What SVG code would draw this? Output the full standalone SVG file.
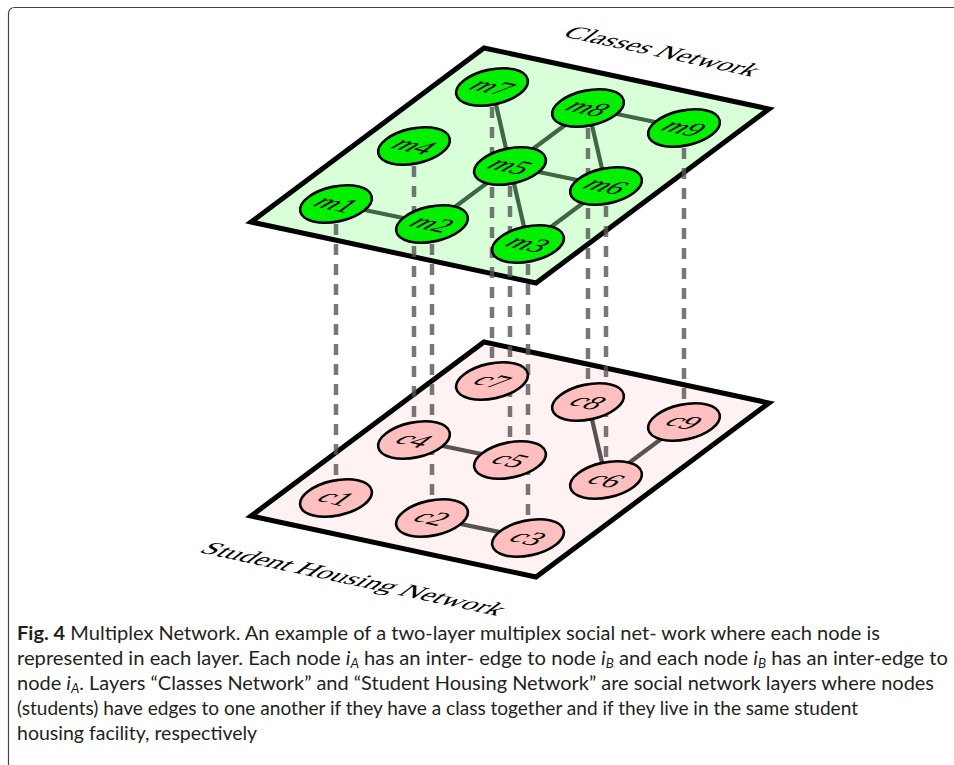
<svg xmlns="http://www.w3.org/2000/svg" width="954" height="765" viewBox="0 0 954 765">
<style>
.plane{stroke:#000;stroke-width:5;stroke-linejoin:miter}
.mnode{fill:#00f000;stroke:#000;stroke-width:2.6}
.cnode{fill:#ffbfbf;stroke:#000;stroke-width:2.6}
.lbl{font-family:"Liberation Serif","DejaVu Serif",serif;font-size:29px;text-anchor:middle;fill:#000}
.lbl .v{font-style:italic}
.layer{font-family:"Liberation Serif","DejaVu Serif",serif;font-size:26px;fill:#000}
.inter{stroke:#555;stroke-opacity:0.8;stroke-width:4.5;stroke-dasharray:11 9;fill:none}
.medge{stroke:#3f6745;stroke-width:4.2;fill:none}
.cedge{stroke:#5a5252;stroke-width:4.2;fill:none}
.cap{font-family:Lato,"Open Sans","Liberation Sans",sans-serif;font-size:19.5px;fill:#231f20}
</style>
<path d="M8.5,770 V14 Q8.5,7.5 15,7.5 H960" fill="none" stroke="#444" stroke-width="1.2"/>

<g id="plane-classes"><polygon class="plane" points="251,222 484,48 769,109 536,283" fill="#d9ffd9"/></g>
<g id="plane-housing"><polygon class="plane" points="251,516 484,342 769,403 536,577" fill="#fff2f2"/></g>

<g id="connectors">
<line class="inter" x1="336" y1="204" x2="336" y2="498"/>
<line class="inter" x1="432" y1="224" x2="432" y2="518"/>
<line class="inter" x1="528" y1="244" x2="528" y2="538"/>
<line class="inter" x1="414" y1="146" x2="414" y2="440"/>
<line class="inter" x1="510" y1="166" x2="510" y2="460"/>
<line class="inter" x1="606" y1="186" x2="606" y2="480"/>
<line class="inter" x1="492" y1="87" x2="492" y2="381"/>
<line class="inter" x1="588" y1="108" x2="588" y2="402"/>
<line class="inter" x1="684" y1="128" x2="684" y2="422"/>
<line class="medge" x1="336" y1="204" x2="432" y2="224"/>
<line class="medge" x1="432" y1="224" x2="510" y2="166"/>
<line class="medge" x1="492" y1="87" x2="510" y2="166"/>
<line class="medge" x1="510" y1="166" x2="588" y2="108"/>
<line class="medge" x1="588" y1="108" x2="684" y2="128"/>
<line class="medge" x1="588" y1="108" x2="606" y2="186"/>
<line class="medge" x1="510" y1="166" x2="606" y2="186"/>
<line class="medge" x1="510" y1="166" x2="528" y2="244"/>
<line class="medge" x1="606" y1="186" x2="528" y2="244"/>
<line class="cedge" x1="414" y1="440" x2="510" y2="460"/>
<line class="cedge" x1="432" y1="518" x2="528" y2="538"/>
<line class="cedge" x1="588" y1="402" x2="606" y2="480"/>
<line class="cedge" x1="606" y1="480" x2="684" y2="422"/>
</g>

<g id="m1"><ellipse class="mnode" cx="0" cy="0" rx="36.5" ry="17.5" transform="translate(336,204) rotate(-12)"/><text class="lbl" transform="matrix(0.978,0.209,-0.801,0.598,336,204)" y="9"><tspan class="v">m</tspan>1</text></g>
<g id="m2"><ellipse class="mnode" cx="0" cy="0" rx="36.5" ry="17.5" transform="translate(432,224) rotate(-12)"/><text class="lbl" transform="matrix(0.978,0.209,-0.801,0.598,432,224)" y="9"><tspan class="v">m</tspan>2</text></g>
<g id="m3"><ellipse class="mnode" cx="0" cy="0" rx="36.5" ry="17.5" transform="translate(528,244) rotate(-12)"/><text class="lbl" transform="matrix(0.978,0.209,-0.801,0.598,528,244)" y="9"><tspan class="v">m</tspan>3</text></g>
<g id="m4"><ellipse class="mnode" cx="0" cy="0" rx="36.5" ry="17.5" transform="translate(414,146) rotate(-12)"/><text class="lbl" transform="matrix(0.978,0.209,-0.801,0.598,414,146)" y="9"><tspan class="v">m</tspan>4</text></g>
<g id="m5"><ellipse class="mnode" cx="0" cy="0" rx="36.5" ry="17.5" transform="translate(510,166) rotate(-12)"/><text class="lbl" transform="matrix(0.978,0.209,-0.801,0.598,510,166)" y="9"><tspan class="v">m</tspan>5</text></g>
<g id="m6"><ellipse class="mnode" cx="0" cy="0" rx="36.5" ry="17.5" transform="translate(606,186) rotate(-12)"/><text class="lbl" transform="matrix(0.978,0.209,-0.801,0.598,606,186)" y="9"><tspan class="v">m</tspan>6</text></g>
<g id="m7"><ellipse class="mnode" cx="0" cy="0" rx="36.5" ry="17.5" transform="translate(492,87) rotate(-12)"/><text class="lbl" transform="matrix(0.978,0.209,-0.801,0.598,492,87)" y="9"><tspan class="v">m</tspan>7</text></g>
<g id="m8"><ellipse class="mnode" cx="0" cy="0" rx="36.5" ry="17.5" transform="translate(588,108) rotate(-12)"/><text class="lbl" transform="matrix(0.978,0.209,-0.801,0.598,588,108)" y="9"><tspan class="v">m</tspan>8</text></g>
<g id="m9"><ellipse class="mnode" cx="0" cy="0" rx="36.5" ry="17.5" transform="translate(684,128) rotate(-12)"/><text class="lbl" transform="matrix(0.978,0.209,-0.801,0.598,684,128)" y="9"><tspan class="v">m</tspan>9</text></g>

<g id="c1"><ellipse class="cnode" cx="0" cy="0" rx="36.5" ry="17.5" transform="translate(336,498) rotate(-12)"/><text class="lbl" transform="matrix(0.978,0.209,-0.801,0.598,336,498)" y="9"><tspan class="v">c</tspan>1</text></g>
<g id="c2"><ellipse class="cnode" cx="0" cy="0" rx="36.5" ry="17.5" transform="translate(432,518) rotate(-12)"/><text class="lbl" transform="matrix(0.978,0.209,-0.801,0.598,432,518)" y="9"><tspan class="v">c</tspan>2</text></g>
<g id="c3"><ellipse class="cnode" cx="0" cy="0" rx="36.5" ry="17.5" transform="translate(528,538) rotate(-12)"/><text class="lbl" transform="matrix(0.978,0.209,-0.801,0.598,528,538)" y="9"><tspan class="v">c</tspan>3</text></g>
<g id="c4"><ellipse class="cnode" cx="0" cy="0" rx="36.5" ry="17.5" transform="translate(414,440) rotate(-12)"/><text class="lbl" transform="matrix(0.978,0.209,-0.801,0.598,414,440)" y="9"><tspan class="v">c</tspan>4</text></g>
<g id="c5"><ellipse class="cnode" cx="0" cy="0" rx="36.5" ry="17.5" transform="translate(510,460) rotate(-12)"/><text class="lbl" transform="matrix(0.978,0.209,-0.801,0.598,510,460)" y="9"><tspan class="v">c</tspan>5</text></g>
<g id="c6"><ellipse class="cnode" cx="0" cy="0" rx="36.5" ry="17.5" transform="translate(606,480) rotate(-12)"/><text class="lbl" transform="matrix(0.978,0.209,-0.801,0.598,606,480)" y="9"><tspan class="v">c</tspan>6</text></g>
<g id="c7"><ellipse class="cnode" cx="0" cy="0" rx="36.5" ry="17.5" transform="translate(492,381) rotate(-12)"/><text class="lbl" transform="matrix(0.978,0.209,-0.801,0.598,492,381)" y="9"><tspan class="v">c</tspan>7</text></g>
<g id="c8"><ellipse class="cnode" cx="0" cy="0" rx="36.5" ry="17.5" transform="translate(588,402) rotate(-12)"/><text class="lbl" transform="matrix(0.978,0.209,-0.801,0.598,588,402)" y="9"><tspan class="v">c</tspan>8</text></g>
<g id="c9"><ellipse class="cnode" cx="0" cy="0" rx="36.5" ry="17.5" transform="translate(684,422) rotate(-12)"/><text class="lbl" transform="matrix(0.978,0.209,-0.801,0.598,684,422)" y="9"><tspan class="v">c</tspan>9</text></g>

<g id="label-classes"><text class="layer" transform="matrix(0.978,0.209,-0.801,0.598,561,36)" textLength="194" lengthAdjust="spacingAndGlyphs">Classes Network</text></g>
<g id="label-housing"><text class="layer" transform="matrix(0.978,0.209,-0.801,0.598,198,552)" textLength="305" lengthAdjust="spacingAndGlyphs">Student Housing Network</text></g>

<g id="caption" class="cap">
<text x="17" y="640" textLength="863" lengthAdjust="spacingAndGlyphs"><tspan font-weight="bold">Fig. 4</tspan>  Multiplex Network. An example of a two-layer multiplex social net- work where each node is</text>
<text x="17" y="665" textLength="931" lengthAdjust="spacingAndGlyphs">represented in each layer. Each node <tspan font-style="italic">i</tspan><tspan font-style="italic" font-size="13" dy="3">A</tspan><tspan dy="-3"> has an inter- edge to node </tspan><tspan font-style="italic">i</tspan><tspan font-style="italic" font-size="13" dy="3">B</tspan><tspan dy="-3"> and each node </tspan><tspan font-style="italic">i</tspan><tspan font-style="italic" font-size="13" dy="3">B</tspan><tspan dy="-3"> has an inter-edge to</tspan></text>
<text x="17" y="690" textLength="917" lengthAdjust="spacingAndGlyphs">node <tspan font-style="italic">i</tspan><tspan font-style="italic" font-size="13" dy="3">A</tspan><tspan dy="-3">. Layers “Classes Network” and “Student Housing Network” are social network layers where nodes</tspan></text>
<text x="17" y="715" textLength="841" lengthAdjust="spacingAndGlyphs">(students) have edges to one another if they have a class together and if they live in the same student</text>
<text x="17" y="740">housing facility, respectively</text>
</g>
</svg>
